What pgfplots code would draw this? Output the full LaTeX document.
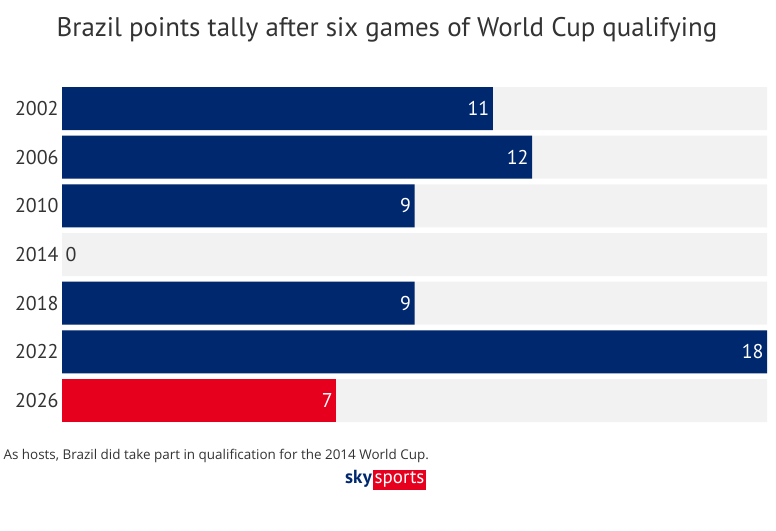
\documentclass[border=0pt]{standalone}
\usepackage{pgfplots}
\pgfplotsset{compat=1.18}
\usepackage{fontspec}
\setmainfont{PT Sans}
\newfontfamily\footfont{Open Sans}
\definecolor{skyblue}{HTML}{00286E}
\definecolor{skyred}{HTML}{E6001E}
\definecolor{bggray}{HTML}{F2F2F2}
\definecolor{txt}{HTML}{333333}
\begin{document}
\begin{tikzpicture}
\useasboundingbox (0,0) rectangle (776bp,-531bp);
\node[font=\fontsize{27}{27}\selectfont, text=txt] at (387bp,-30bp) {Brazil points tally after six games of World Cup qualifying};
\begin{axis}[
  at={(62bp,-84.17bp)}, anchor=north west,
  scale only axis, width=705bp, height=340.67bp,
  xmin=0, xmax=18, ymin=-0.5, ymax=6.5, y dir=reverse,
  axis line style={draw=none},
  xtick=\empty,
  ytick={0,1,2,3,4,5,6},
  yticklabels={2002,2006,2010,2014,2018,2022,2026},
  major tick length=0pt,
  y tick label style={font=\fontsize{20}{20}\selectfont, text=txt},
  /pgf/number format/assume math mode=true,
  xbar, bar width=43bp, bar shift=0pt,
  point meta=x,
  clip=false,
]
\addplot[fill=bggray, draw=none] coordinates {(18,0) (18,1) (18,2) (18,3) (18,4) (18,5) (18,6)};
\addplot[fill=skyblue, draw=none, nodes near coords,
  nodes near coords style={anchor=east, text=white, font=\fontsize{20}{20}\selectfont}]
  coordinates {(11,0) (12,1) (9,2) (9,4) (18,5)};
\addplot[fill=skyred, draw=none, nodes near coords,
  nodes near coords style={anchor=east, text=white, font=\fontsize{20}{20}\selectfont}]
  coordinates {(7,6)};
\addplot[fill=none, draw=none, nodes near coords,
  nodes near coords style={anchor=west, text=txt, font=\fontsize{20}{20}\selectfont}]
  coordinates {(0,3)};
\end{axis}
\node[anchor=west, font=\footfont\fontsize{13.5}{13.5}\selectfont, text=txt] at (0bp,-456bp) {As hosts, Brazil did take part in qualification for the 2014 World Cup.};
\node[anchor=east, font=\bfseries\fontsize{19}{19}\selectfont, text=skyblue, inner sep=1bp] at (373bp,-479bp) {sky};
\node[anchor=west, fill=skyred, font=\fontsize{19}{19}\selectfont, text=white, inner sep=1.5bp, minimum height=20bp] at (373bp,-479.5bp) {sports};
\end{tikzpicture}
\end{document}
